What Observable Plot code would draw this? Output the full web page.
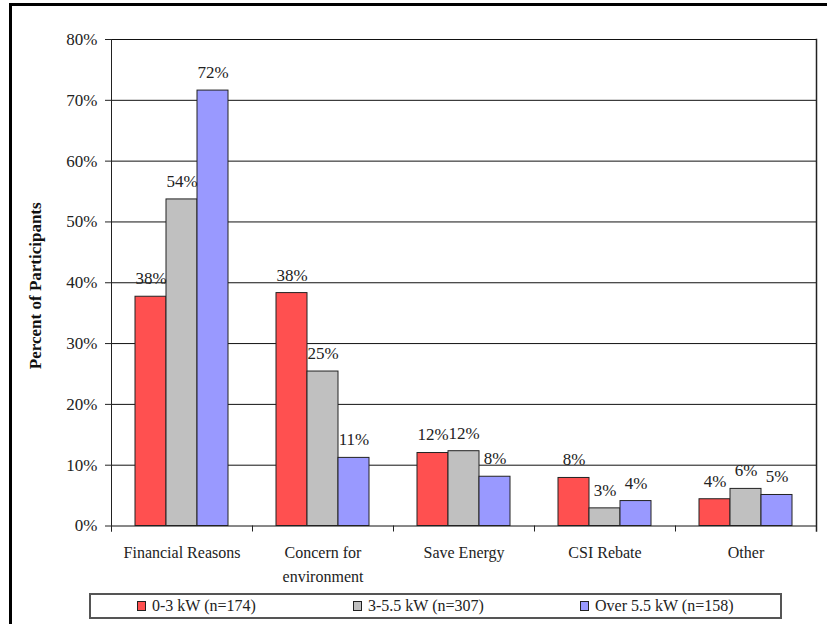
<!DOCTYPE html>
<html>
<head>
<meta charset="utf-8">
<script src="https://cdn.jsdelivr.net/npm/d3@7"></script>
<script src="https://cdn.jsdelivr.net/npm/@observablehq/plot@0.6"></script>
<style>
  html, body { margin: 0; padding: 0; background: #fff; }
  #page { position: relative; width: 827px; height: 624px; overflow: hidden; font-family: "Liberation Serif", "Times New Roman", serif; color: #222; }
  #edge { position: absolute; left: 9px; top: 3px; width: 900px; height: 700px; border-left: 3.5px solid #000; border-top: 3px solid #000; box-sizing: border-box; }
  #chart { position: absolute; left: 0; top: 0; }
  #legend { position: absolute; left: 89px; top: 593px; width: 693px; height: 26px; border: 2px solid #555; box-sizing: border-box; }
  #legend .item { position: absolute; top: 0; height: 22px; display: flex; align-items: center; font-size: 16px; white-space: nowrap; }
  #legend .swatch { width: 9px; height: 10px; border: 1px solid #222; margin-right: 6px; box-sizing: border-box; }
</style>
</head>
<body>
<div id="page">
  <div id="edge"></div>
  <div id="chart"></div>
  <div id="legend"></div>
</div>
<script>
// Reasons for installing, by system size
const categories = ["Financial Reasons", "Concern for\nenvironment", "Save Energy", "CSI Rebate", "Other"];
const series = ["0-3 kW (n=174)", "3-5.5 kW (n=307)", "Over 5.5 kW (n=158)"];
const colors = ["#ff5050", "#c0c0c0", "#9999ff"];

// Percent of participants in each size group
const small  = [37.7, 38.3, 12.0, 7.9, 4.4];
const medium = [53.7, 25.4, 12.3, 2.9, 6.1];
const large  = [71.6, 11.2, 8.1, 4.1, 5.1];

const yTicks = [0, 10, 20, 30, 40, 50, 60, 70, 80];
const yTitle = "Percent of Participants";

const groups = [small, medium, large];
const rows = categories.flatMap((category, i) =>
  series.map((s, j) => ({category, series: s, value: groups[j][i]}))
);

const H = 590, mTop = 39, mBottom = 64.5;
const plotH = H - mTop - mBottom;

const chart = Plot.plot({
  width: 827,
  height: H,
  marginLeft: 109,
  marginRight: 10,
  marginTop: mTop,
  marginBottom: mBottom,
  style: {fontFamily: "Liberation Serif, Times New Roman, serif", color: "#222", background: "transparent", overflow: "visible"},
  fx: {domain: categories, padding: 0, label: null},
  x: {domain: series, paddingInner: 0, paddingOuter: 0.733, axis: null},
  y: {domain: [0, 80], label: null},
  color: {domain: series, range: colors},
  marks: [
    Plot.ruleY(yTicks, {stroke: "#111", strokeWidth: 1}),
    Plot.barY(rows, {fx: "category", x: "series", y: "value", fill: "series", stroke: "#222", strokeWidth: 1}),
    Plot.text(rows, {fx: "category", x: "series", y: "value", text: d => Math.round(d.value) + "%", dy: -18, fontSize: 17, fill: "#222"}),
    // boundary ticks under the category axis
    Plot.frame({anchor: "left", insetTop: plotH, insetBottom: -5, stroke: "#222"}),
    Plot.frame({facet: "super", anchor: "left", insetBottom: -5, stroke: "#222"}),
    Plot.frame({facet: "super", anchor: "right", insetBottom: -5, stroke: "#222", strokeWidth: 1.5}),
    Plot.axisY({ticks: yTicks, tickFormat: d => d + "%", tickSize: 6, tickPadding: 8, fontSize: 17, label: null, stroke: "#222"}),
    Plot.axisFx({anchor: "bottom", tickSize: 0, tickPadding: 15, fontSize: 16, lineHeight: 1.5, label: null}),
    Plot.text([yTitle], {facet: "super", frameAnchor: "left", textAnchor: "middle", rotate: -90, dx: -76, dy: 3, fontSize: 17, fontWeight: "bold", fill: "#111"})
  ]
});
document.getElementById("chart").appendChild(chart);

// Legend row
const offsets = [46, 262, 489];
const legend = document.getElementById("legend");
series.forEach((s, i) => {
  const item = document.createElement("div");
  item.className = "item";
  item.style.left = offsets[i] + "px";
  const sw = document.createElement("span");
  sw.className = "swatch";
  sw.style.background = colors[i];
  item.appendChild(sw);
  item.appendChild(document.createTextNode(s));
  legend.appendChild(item);
});
</script>
</body>
</html>
